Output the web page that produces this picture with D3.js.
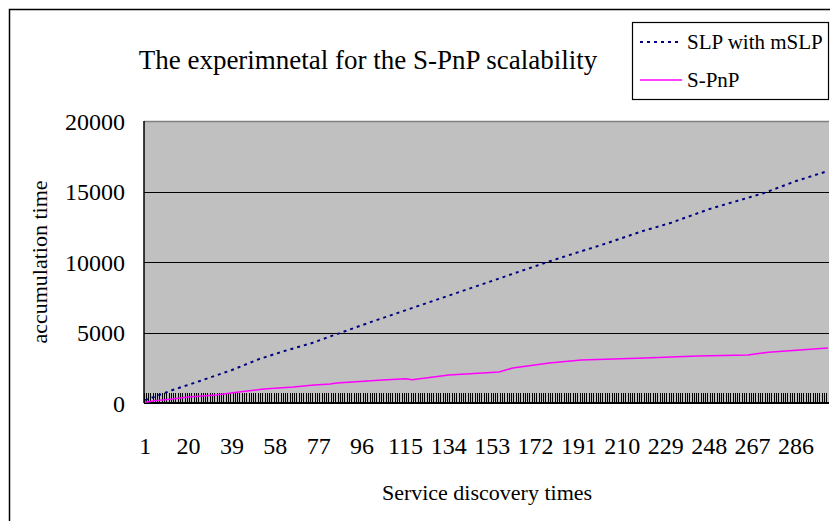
<!DOCTYPE html>
<html>
<head>
<meta charset="utf-8">
<script src="https://cdn.jsdelivr.net/npm/d3@7"></script>
<style>
  body { margin: 0; background: #fff; }
  svg text { font-family: "Liberation Serif", "Times New Roman", serif; fill: #000; }
</style>
</head>
<body>
<div id="chart"></div>
<script>
// category axis: service discovery 1..300
const categories = d3.range(1, 301);
const xLabels = [1, 20, 39, 58, 77, 96, 115, 134, 153, 172, 191, 210, 229, 248, 267, 286];
const yTicks = [0, 5000, 10000, 15000, 20000];

// values (category, accumulation time)
const slpCats = [1, 13, 25, 39, 51, 62, 74, 80, 100, 120, 140, 160, 180, 202, 219, 231, 248, 260, 272, 286, 300];
const slpVals = [200, 920, 1560, 2340, 3120, 3690, 4250, 4600, 5750, 6850, 7950, 9050, 10150, 11270, 12200, 12760, 13750, 14320, 14890, 15740, 16450];

const spnpCats = [1, 5, 13, 20, 32, 42, 53, 66, 75, 82, 85, 105, 115, 118, 134, 156, 162, 178, 192, 220, 243, 265, 274, 300];
const spnpVals = [60, 160, 280, 420, 570, 780, 990, 1130, 1280, 1350, 1420, 1630, 1720, 1650, 1990, 2200, 2480, 2840, 3050, 3200, 3330, 3400, 3600, 3900];

const W = 830, H = 521;
const plot = { left: 144, right: 829, top: 121, bottom: 403 };

const svg = d3.select("#chart").append("svg")
  .attr("width", W)
  .attr("height", H);

// outer chart frame
svg.append("rect")
  .attr("x", 9.5).attr("y", 9.5)
  .attr("width", W).attr("height", H)
  .attr("fill", "#fff")
  .attr("stroke", "#000")
  .attr("stroke-width", 1.5);

const x = d3.scaleBand()
  .domain(categories)
  .range([plot.left, plot.right]);

const y = d3.scaleLinear()
  .domain([0, 20000])
  .range([plot.bottom, plot.top]);

const cx = c => x(c) + x.bandwidth() / 2;

// plot area
svg.append("rect")
  .attr("x", plot.left).attr("y", plot.top)
  .attr("width", plot.right - plot.left)
  .attr("height", plot.bottom - plot.top)
  .attr("fill", "#c0c0c0");

svg.append("line")
  .attr("x1", plot.left).attr("x2", plot.right)
  .attr("y1", plot.top + 0.5).attr("y2", plot.top + 0.5)
  .attr("stroke", "#808080").attr("stroke-width", 1.5);

// gridlines
svg.append("g").selectAll("line")
  .data(yTicks.filter(d => d > 0 && d < 20000))
  .join("line")
  .attr("x1", plot.left).attr("x2", plot.right)
  .attr("y1", d => Math.round(y(d)) + 0.5)
  .attr("y2", d => Math.round(y(d)) + 0.5)
  .attr("stroke", "#000")
  .attr("stroke-width", 1.2);

// category tick marks (inside, dense)
svg.append("g")
  .attr("shape-rendering", "crispEdges")
  .selectAll("line")
  .data(categories)
  .join("line")
  .attr("x1", d => x(d)).attr("x2", d => x(d))
  .attr("y1", plot.bottom - 10).attr("y2", plot.bottom)
  .attr("stroke", "#000")
  .attr("stroke-width", 1);

// axis lines
svg.append("line")
  .attr("x1", plot.left).attr("x2", plot.left)
  .attr("y1", plot.top).attr("y2", plot.bottom)
  .attr("stroke", "#000").attr("stroke-width", 1.5);
svg.append("line")
  .attr("x1", plot.left).attr("x2", plot.right)
  .attr("y1", plot.bottom).attr("y2", plot.bottom)
  .attr("stroke", "#000").attr("stroke-width", 2);

// y axis labels
const yAxis = svg.append("g")
  .attr("transform", `translate(${plot.left},0)`)
  .call(d3.axisLeft(y).tickValues(yTicks).tickSize(0).tickPadding(19).tickFormat(d3.format("d")));
yAxis.select(".domain").remove();
yAxis.selectAll("text")
  .attr("font-family", "Liberation Serif")
  .attr("font-size", 24)
  .attr("dy", "0.35em");

// x axis labels
svg.append("g").selectAll("text")
  .data(xLabels)
  .join("text")
  .attr("x", d => cx(d))
  .attr("y", 454)
  .attr("text-anchor", "middle")
  .attr("font-size", 24)
  .text(d => d);

// series
const line = d3.line()
  .x(d => cx(d[0]))
  .y(d => y(d[1]));

svg.append("path")
  .datum(d3.zip(spnpCats, spnpVals))
  .attr("d", line)
  .attr("fill", "none")
  .attr("stroke", "#ff00ff")
  .attr("stroke-width", 1.5);

svg.append("path")
  .datum(d3.zip(slpCats, slpVals))
  .attr("d", line)
  .attr("fill", "none")
  .attr("stroke", "#000080")
  .attr("stroke-width", 2)
  .attr("stroke-dasharray", "3,4");

// titles
svg.append("text")
  .attr("x", 368).attr("y", 69)
  .attr("text-anchor", "middle")
  .attr("font-size", 27)
  .text("The experimnetal for the S-PnP scalability");

svg.append("text")
  .attr("x", 487).attr("y", 500)
  .attr("text-anchor", "middle")
  .attr("font-size", 22)
  .text("Service discovery times");

svg.append("text")
  .attr("transform", "translate(47,262) rotate(-90)")
  .attr("text-anchor", "middle")
  .attr("font-size", 22)
  .text("accumulation time");

// legend
const legend = svg.append("g");
legend.append("rect")
  .attr("x", 632.5).attr("y", 22.5)
  .attr("width", 196).attr("height", 77)
  .attr("fill", "#fff")
  .attr("stroke", "#000")
  .attr("stroke-width", 1.2);

const legendItems = [
  { name: "SLP with mSLP", color: "#000080", dash: "3,4", width: 2, y: 42 },
  { name: "S-PnP", color: "#ff00ff", dash: null, width: 1.5, y: 80 }
];
legendItems.forEach(d => {
  legend.append("line")
    .attr("x1", 640).attr("x2", 682)
    .attr("y1", d.y).attr("y2", d.y)
    .attr("stroke", d.color)
    .attr("stroke-width", d.width)
    .attr("stroke-dasharray", d.dash);
  legend.append("text")
    .attr("x", 687).attr("y", d.y + 7)
    .attr("font-size", 21)
    .text(d.name);
});
</script>
</body>
</html>
